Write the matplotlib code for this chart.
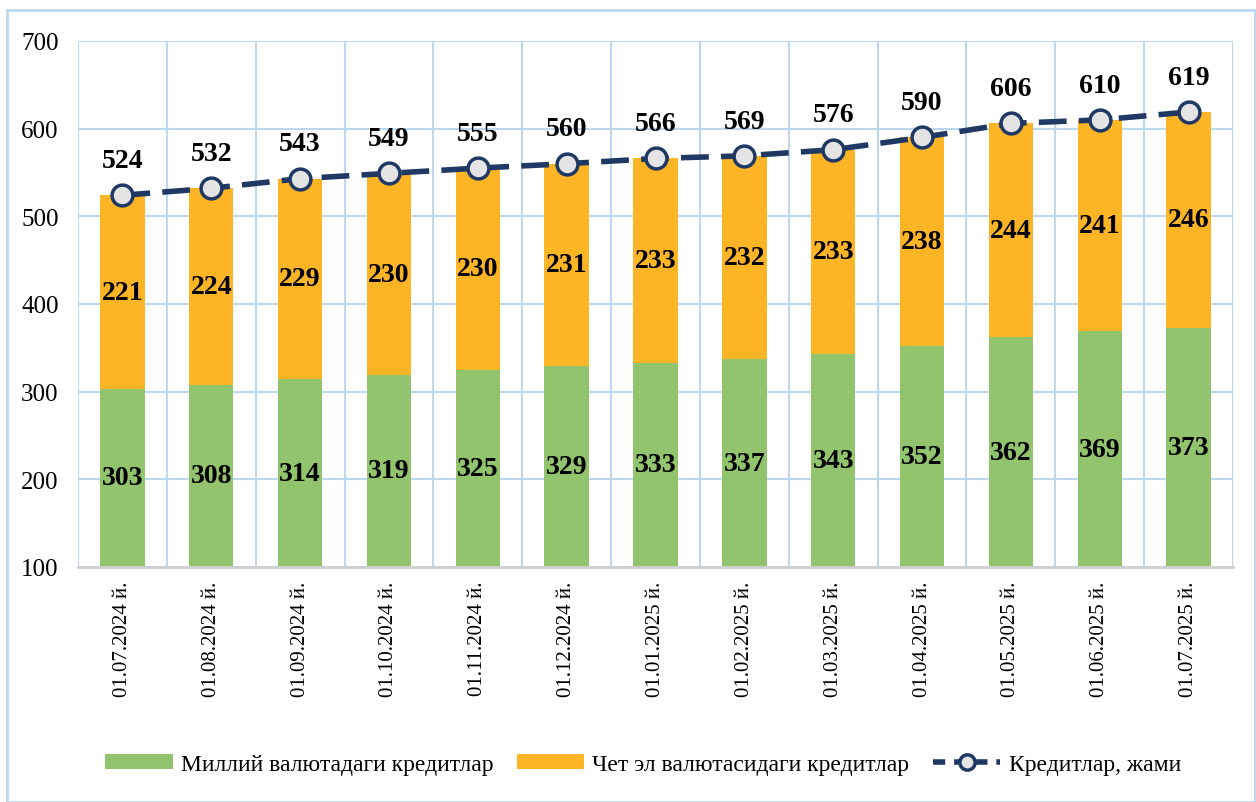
import numpy as np
import matplotlib.pyplot as plt
from matplotlib.patches import Rectangle
from matplotlib.lines import Line2D

dates = ["01.07.2024 й.", "01.08.2024 й.", "01.09.2024 й.", "01.10.2024 й.", "01.11.2024 й.",
         "01.12.2024 й.", "01.01.2025 й.", "01.02.2025 й.", "01.03.2025 й.", "01.04.2025 й.",
         "01.05.2025 й.", "01.06.2025 й.", "01.07.2025 й."]
national = [303, 308, 314, 319, 325, 329, 333, 337, 343, 352, 362, 369, 373]
foreign = [221, 224, 229, 230, 230, 231, 233, 232, 233, 238, 244, 241, 246]
total = [524, 532, 543, 549, 555, 560, 566, 569, 576, 590, 606, 610, 619]

green = "#92c46e"
orange = "#fdb526"
navy = "#1f3864"
grid_c = "#bdd7ee"

plt.rcParams['font.family'] = ['Liberation Serif', 'DejaVu Serif']

fig = plt.figure(figsize=(12.56, 8.03), dpi=100)
ax = fig.add_axes([0.0621, 0.2927, 0.9196, 0.655])

x = np.arange(len(dates))
b1 = ax.bar(x, national, width=0.5, color=green, label="Миллий валютадаги кредитлар", zorder=2)
b2 = ax.bar(x, foreign, width=0.5, bottom=national, color=orange, label="Чет эл валютасидаги кредитлар", zorder=2)
ln, = ax.plot(x, total, color=navy, lw=4, dashes=(5, 2.2), marker='o', ms=15,
              mfc="#e4e4e4", mec=navy, mew=2.5, label="Кредитлар, жами", zorder=3)

ymin = 100
for i in range(len(x)):
    ax.text(x[i], (ymin + national[i]) / 2, str(national[i]), ha='center', va='center',
            fontsize=20, fontweight='bold', zorder=4)
    ax.text(x[i], national[i] + foreign[i] / 2, str(foreign[i]), ha='center', va='center',
            fontsize=20, fontweight='bold', zorder=4)
    ax.annotate(str(total[i]), (x[i], total[i]), xytext=(0, 25), textcoords='offset points',
                ha='center', va='center', fontsize=20, fontweight='bold', zorder=4)

ax.set_ylim(ymin, 700)
ax.set_xlim(-0.5, len(x) - 0.5)
ax.set_yticks(range(100, 701, 100))
ax.set_xticks(x)
ax.set_xticklabels(dates, rotation=90, fontsize=15)
ax.tick_params(axis='y', labelsize=18, length=0, pad=14)
ax.tick_params(axis='x', length=0, pad=10)

ax.set_axisbelow(True)
ax.yaxis.grid(True, color=grid_c, lw=1.5)
for b in np.arange(-0.5, len(x), 1.0):
    ax.axvline(b, color=grid_c, lw=1.5, zorder=0)
for s in ['top', 'right', 'left']:
    ax.spines[s].set_visible(False)
ax.spines['bottom'].set_color("#d0d0d0")
ax.spines['bottom'].set_linewidth(2)

# legend proxy for the line so the dashes show in the short handle
ln_leg = Line2D([], [], color=navy, lw=4, dashes=(2.2, 1.6), marker='o', ms=11,
                mfc="#e4e4e4", mec=navy, mew=2.5)
fig.legend([b1, b2, ln_leg], [b1.get_label(), b2.get_label(), ln.get_label()],
           loc='center', bbox_to_anchor=(0.512, 0.047), ncol=3, frameon=False,
           fontsize=17, handlelength=2.85, handleheight=0.6, handletextpad=0.35,
           columnspacing=1.0)

fig.patches.append(Rectangle((0.0056, 0.0), 0.994, 0.986, transform=fig.transFigure,
                             fill=False, edgecolor=grid_c, lw=2))

fig.savefig("out.png", dpi=100)
